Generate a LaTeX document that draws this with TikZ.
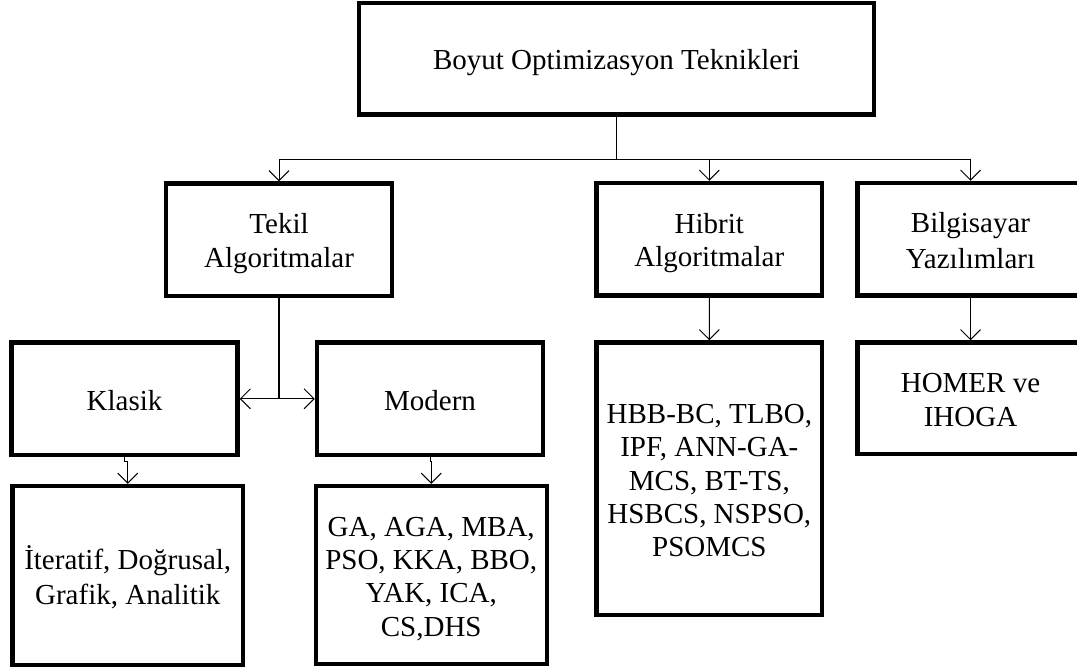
\documentclass[tikz,border=0pt]{standalone}
\usepackage{fontspec}
\setmainfont{Liberation Serif}
\usetikzlibrary{arrows.meta}
\newcommand{\lnstrut}{\rule[-5.45pt]{0pt}{33.4pt}}
\begin{document}
\begin{tikzpicture}[x=1pt,y=-1pt,
  box/.style={draw=black, line width=4.5pt, inner sep=2pt, align=center,
              font=\fontsize{29}{33.4}\selectfont},
  conn/.style={line width=1pt, black},
  arr/.style={conn, -{Straight Barb[length=10pt,width=20pt]}}]
\useasboundingbox (0,0) rectangle (1077,670);
\fill[white] (0,0) rectangle (1077,670);
\clip (0,0) rectangle (1077,670);

% level 0
\node[box, minimum width=515pt, minimum height=111.5pt] (top) at (616.5,58.75)
  {\lnstrut Boyut Optimizasyon Teknikleri};

% level 1
\node[box, minimum width=226pt, minimum height=112.5pt] (tekil) at (279,239.75)
  {\lnstrut Tekil\\\lnstrut Algoritmalar};
\node[box, minimum width=225.5pt, minimum height=112.5pt] (hibrit) at (709.25,239.25)
  {\lnstrut Hibrit\\\lnstrut Algoritmalar};
\node[box, minimum width=226pt, minimum height=112.5pt] (bilg) at (970.5,239.25)
  {\lnstrut Bilgisayar\\\lnstrut Yazılımları};

% level 2
\node[box, minimum width=225.8pt, minimum height=112.5pt] (klasik) at (124.6,398.75)
  {\lnstrut Klasik};
\node[box, minimum width=226pt, minimum height=112.5pt] (modern) at (430,398.75)
  {\lnstrut Modern};
\node[box, minimum width=225.3pt, minimum height=272.5pt] (hibritL) at (709.35,478.75)
  {\lnstrut HBB-BC, TLBO,\\\lnstrut IPF, ANN-GA-\\\lnstrut MCS, BT-TS,\\\lnstrut HSBCS, NSPSO,\\\lnstrut PSOMCS};
\node[box, minimum width=226pt, minimum height=111.5pt] (homer) at (970.5,398.25)
  {\lnstrut HOMER ve\\\lnstrut IHOGA};

% level 3
\node[box, minimum width=230.5pt, minimum height=179pt] (iter) at (127.75,575.5)
  {\lnstrut İteratif, Doğrusal,\\\lnstrut Grafik, Analitik};
\node[box, minimum width=231pt, minimum height=178pt] (modernL) at (431.25,575)
  {\lnstrut GA, AGA, MBA,\\\lnstrut PSO, KKA, BBO,\\\lnstrut YAK, ICA,\\\lnstrut CS,DHS};

% connectors
\coordinate (bus) at (top.south |- 0,159.3);
\draw[conn, line width=1.5pt] (top.south) -- (bus);
\draw[arr] (bus) -| (tekil.north);
\draw[arr] (bus) -| (hibrit.north);
\draw[arr] (bus) -| (bilg.north);

\coordinate (tj) at (tekil.south |- klasik.east);
\draw[conn, line width=1.2pt] (tekil.south) -- (tj);
\draw[arr] (tj) -- (klasik.east);
\draw[arr] (tj) -- (modern.west);

\draw[arr] (klasik.south) -- ++(0,4) -| (iter.north);
\draw[arr] (modern.south) -- ++(0,4) -| (modernL.north);
\draw[arr] (hibrit.south) -- (hibritL.north);
\draw[arr] (bilg.south) -- (homer.north);
\end{tikzpicture}
\end{document}
